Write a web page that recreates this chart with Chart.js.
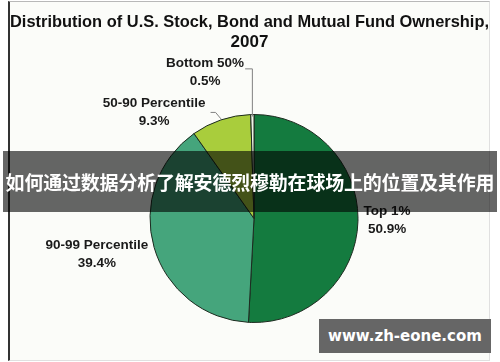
<!DOCTYPE html>
<html>
<head>
<meta charset="utf-8">
<script src="https://cdn.jsdelivr.net/npm/chart.js@4.4.1/dist/chart.umd.min.js"></script>
<style>
  html, body { margin: 0; padding: 0; background: #ffffff; width: 500px; height: 362px; overflow: hidden; }
  #frame {
    position: absolute; left: 8px; top: 1px; width: 479px; height: 358px;
    background: #fbfcf9;
    border-left: 2px solid #333333; border-top: 1px solid #b8b8b8;
    border-right: 1px solid #e0e0e0; border-bottom: 1px solid #e0e0e0;
  }
  #frame canvas { position: absolute; left: 0; top: 0; }
  #banner {
    position: absolute; left: 3px; top: 151px; width: 494px; height: 61px;
    background: rgba(0, 0, 0, 0.6); color: #ffffff;
    font: bold 19px "Noto Sans CJK SC", sans-serif; line-height: 62px;
    text-align: center; white-space: nowrap; letter-spacing: -0.2px;
  }
  #site {
    position: absolute; left: 319px; top: 319px; width: 172px; height: 34px;
    background: #666666; color: #ffffff;
    font: bold 15px "DejaVu Sans", sans-serif; line-height: 35px;
    text-align: center; white-space: nowrap;
  }
</style>
</head>
<body>
<div id="frame"><canvas id="chart" width="479" height="358"></canvas></div>
<div id="banner">如何通过数据分析了解安德烈穆勒在球场上的位置及其作用</div>
<div id="site">www.zh-eone.com</div>
<script>
// Ownership shares by wealth group, 2007 (percent)
const groups = ['Top 1%', '90-99 Percentile', '50-90 Percentile', 'Bottom 50%'];
const shares = [50.9, 39.4, 9.3, 0.5];
const sliceColors = ['#147b3f', '#45a57c', '#a9cd3c', '#eef3e6'];
const titleLines = ['Distribution of U.S. Stock, Bond and Mutual Fund Ownership,', '2007'];

// Label anchors, in multiples of the pie radius from its centre
const labelSpots = [
  { dx: 1.28, dy: 0.02 },
  { dx: -1.51, dy: 0.34 },
  { dx: -0.96, dy: -1.02 },
  { dx: -0.47, dy: -1.41, leader: 'elbow' }
];
labelSpots[2].leader = 'hook';

const LABEL_FONT = 'bold 13.5px "Liberation Sans", Arial, sans-serif';
const LINE_GAP = 18;

// Moves the pie a little right of the title's centre line
const pieShift = {
  id: 'pieShift',
  afterLayout(chart) {
    chart.chartArea.left += 4.5;
    chart.chartArea.right += 4.5;
  }
};

// Two-line slice labels with optional leader lines
const sliceLabels = {
  id: 'sliceLabels',
  afterDatasetsDraw(chart) {
    const ctx = chart.ctx;
    const arcs = chart.getDatasetMeta(0).data;
    const values = chart.data.datasets[0].data;
    ctx.save();
    ctx.font = LABEL_FONT;
    ctx.fillStyle = '#1a1a1a';
    ctx.textAlign = 'center';
    ctx.textBaseline = 'middle';
    arcs.forEach((arc, i) => {
      const spot = labelSpots[i];
      const r = arc.outerRadius;
      const lx = arc.x + spot.dx * r;
      const ly = arc.y + spot.dy * r;
      const line1 = chart.data.labels[i];
      const line2 = values[i].toFixed(1) + '%';
      ctx.fillText(line1, lx, ly - LINE_GAP / 2);
      ctx.fillText(line2, lx, ly + LINE_GAP / 2);

      if (spot.leader) {
        const mid = (arc.startAngle + arc.endAngle) / 2;
        const ex = arc.x + Math.cos(mid) * r;
        const ey = arc.y + Math.sin(mid) * r;
        const half = ctx.measureText(line1).width / 2;
        ctx.beginPath();
        ctx.lineWidth = 1;
        ctx.strokeStyle = '#808080';
        if (spot.leader === 'elbow') {
          const sy = ly - 3;
          ctx.moveTo(lx + half + 1, sy);
          ctx.lineTo(ex, sy);
          ctx.lineTo(ex, ey + 2);
        } else {
          const sx = lx + half + 5;
          ctx.moveTo(sx, ly);
          ctx.lineTo(sx + 5, ly);
          ctx.lineTo(ex, ey - 1);
        }
        ctx.stroke();
      }
    });
    ctx.restore();
  }
};

new Chart(document.getElementById('chart'), {
  type: 'pie',
  data: {
    labels: groups,
    datasets: [{
      data: shares,
      backgroundColor: sliceColors,
      borderColor: '#1c2a1f',
      borderWidth: 1
    }]
  },
  options: {
    responsive: false,
    animation: false,
    radius: 104,
    layout: { padding: { top: 0, bottom: 5, left: 0, right: 0 } },
    plugins: {
      legend: { display: false },
      tooltip: { enabled: false },
      title: {
        display: true,
        text: titleLines,
        color: '#111111',
        font: { family: '"Liberation Sans", Arial, sans-serif', size: 17, weight: 'bold', lineHeight: 20 / 17 },
        padding: { top: 10, bottom: 30 }
      }
    }
  },
  plugins: [pieShift, sliceLabels]
});
</script>
</body>
</html>
